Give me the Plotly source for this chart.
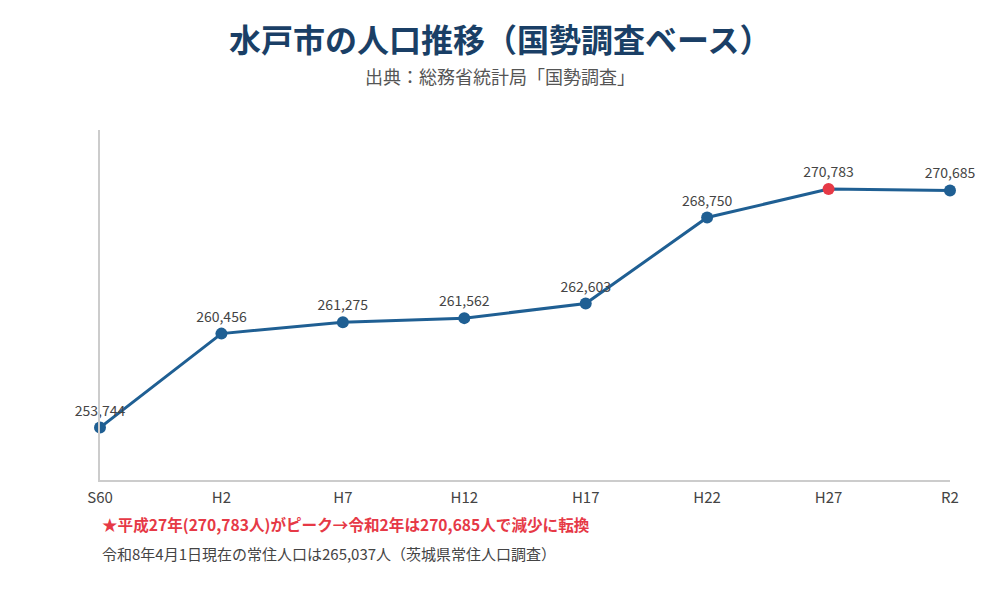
import plotly.graph_objects as go

years = ["S60", "H2", "H7", "H12", "H17", "H22", "H27", "R2"]
population = [253744, 260456, 261275, 261562, 262603, 268750, 270783, 270685]
peak_year = "H27"

font_family = "Noto Sans CJK JP"
line_color = "#1f5f93"
peak_color = "#e63946"

marker_colors = [peak_color if y == peak_year else line_color for y in years]
labels = [f"{v:,}" for v in population]

fig = go.Figure()
fig.add_trace(go.Scatter(
    x=years, y=population,
    mode="lines+markers+text",
    line=dict(color=line_color, width=3),
    marker=dict(color=marker_colors, size=12),
    text=labels,
    textposition="top center",
    textfont=dict(family=font_family, size=14, color="#444444"),
    cliponaxis=False,
    hoverinfo="skip",
))

fig.update_layout(
    width=1000, height=600,
    margin=dict(l=92, r=58, t=122, b=128),
    paper_bgcolor="white", plot_bgcolor="white",
    showlegend=False,
    font=dict(family=font_family, color="#444444"),
    xaxis=dict(
        type="category", range=[0, 7],
        showline=True, linecolor="#cccccc", linewidth=2,
        showgrid=False, zeroline=False, ticks="",
        tickfont=dict(size=15, color="#444444"),
        ticklabelstandoff=3,
    ),
    yaxis=dict(
        range=[250000, 275000],
        showline=True, linecolor="#cccccc", linewidth=2,
        showgrid=False, zeroline=False, showticklabels=False, ticks="",
    ),
)

fig.add_annotation(
    text="<b>水戸市の人口推移（国勢調査ベース）</b>",
    xref="paper", yref="paper", x=0.4706, y=1.264,
    xanchor="center", yanchor="middle", showarrow=False,
    font=dict(family=font_family, size=32, color="#1a3f66"),
)
fig.add_annotation(
    text="出典：総務省統計局「国勢調査」",
    xref="paper", yref="paper", x=0.4706, y=1.154,
    xanchor="center", yanchor="middle", showarrow=False,
    font=dict(family=font_family, size=18, color="#555555"),
)
fig.add_annotation(
    text="<b>★平成27年(270,783人)がピーク→令和2年は270,685人で減少に転換</b>",
    xref="paper", yref="paper", x=0, y=-0.126,
    xanchor="left", yanchor="middle", showarrow=False,
    font=dict(family=font_family, size=15.6, color=peak_color),
)
fig.add_annotation(
    text="令和8年4月1日現在の常住人口は265,037人（茨城県常住人口調査）",
    xref="paper", yref="paper", x=0, y=-0.209,
    xanchor="left", yanchor="middle", showarrow=False,
    font=dict(family=font_family, size=15, color="#444444"),
)

fig.write_html("out.html")
